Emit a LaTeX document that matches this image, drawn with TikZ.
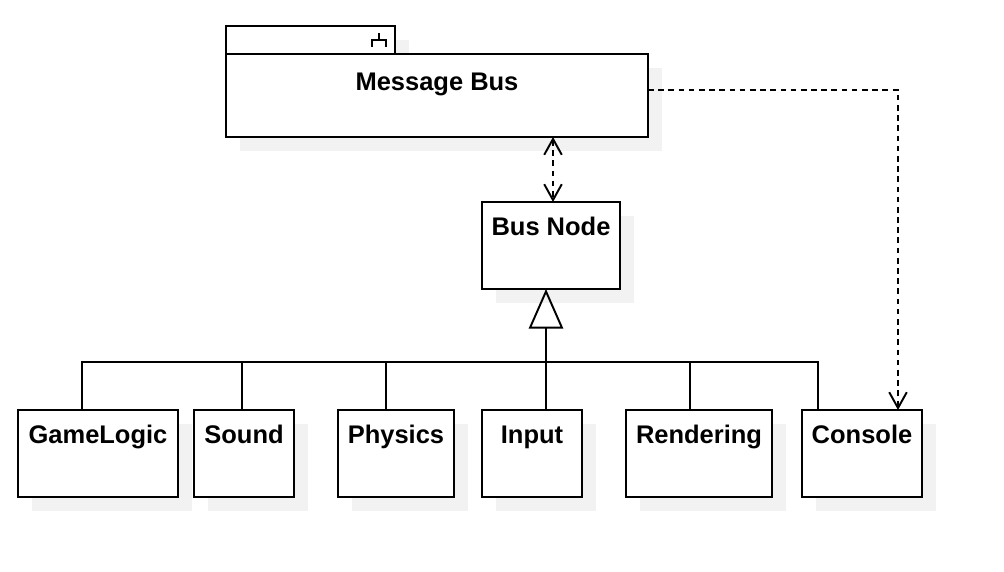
\documentclass[tikz,border=0pt]{standalone}
\usepackage{fontspec}
\setmainfont{Liberation Sans}
\usepackage{tikz}
\usetikzlibrary{arrows.meta,shadows,calc,positioning}

\begin{document}
\begin{tikzpicture}[line width=1.1pt, >={Straight Barb[length=9pt, width=10pt]},
                    classs/.style={rectangle, draw=black, fill=white, minimum height=1.74cm, inner sep=0pt, outer sep=0pt,
                                   drop shadow={shadow xshift=0.28cm, shadow yshift=-0.28cm, fill=black!5, opacity=1}},
                    labell/.style={font=\bfseries\fontsize{14.5}{17}\selectfont, anchor=base, inner sep=0pt},
                    dep/.style={dash pattern=on 3.2pt off 2.6pt}]
        \useasboundingbox (0,0) rectangle (20.08,-11.44);

        % package
        \node (Tab) [classs, minimum width=3.38cm, minimum height=0.56cm, anchor=north west] at (4.52,-0.52) {};
        \draw[line width=0.8pt] ($(Tab.north east)+(-0.32,-0.14)$) -- ++(0,-0.14)
              ($(Tab.north east)+(-0.46,-0.42)$) |- ++(0.28,0.14) -- ++(0,-0.14);
        \node (MessageBus) [classs, minimum width=8.44cm, minimum height=1.66cm, anchor=north west,
               label={[labell, yshift=-0.73cm]north:Message Bus}] at (Tab.south west) {};

        \node (BusNode) [classs, minimum width=2.76cm, label={[labell, yshift=-0.67cm]north:Bus Node}] at (11.02,-4.91) {};

        % components
        \node (GameLogic) [classs, minimum width=3.2cm, label={[labell, yshift=-0.67cm]north:GameLogic}] at (1.96,-9.07) {};
        \node (Sound) [classs, minimum width=2.0cm, label={[labell, yshift=-0.67cm]north:Sound}] at (4.88,-9.07) {};
        \node (Physics) [classs, minimum width=2.32cm, label={[labell, yshift=-0.67cm]north:Physics}] at (7.92,-9.07) {};
        \node (Input) [classs, minimum width=2.0cm, label={[labell, yshift=-0.67cm]north:Input}] at (10.64,-9.07) {};
        \node (Rendering) [classs, minimum width=2.92cm, label={[labell, yshift=-0.67cm]north:Rendering}] at (13.98,-9.07) {};
        \node (Console) [classs, minimum width=2.4cm, label={[labell, yshift=-0.67cm]north:Console}] at (17.24,-9.07) {};

        % generalization
        \coordinate (Junction) at (10.92,-7.24);
        \foreach \n/\x in {GameLogic/1.64, Sound/4.84, Physics/7.72, Input/10.92, Rendering/13.80, Console/16.36} {
            \coordinate (Top\n) at (\x,-7.24);
            \draw (\n.north -| Top\n) -- (Top\n) -- (Junction);
        }
        \draw[-{Triangle[open, length=22.5pt, width=19.5pt]}] (Junction) -- (Junction |- BusNode.south);

        % dependencies
        \coordinate (BusIn) at ($(BusNode.north)+(0.04,0)$);
        \draw[dep, <->] (BusIn |- MessageBus.south) -- (BusIn);
        \coordinate (ConsoleIn) at ($(Console.north)+(0.72,0)$);
        \draw[dep, ->] ([yshift=0.11cm]MessageBus.east) -| (ConsoleIn);
\end{tikzpicture}
\end{document}
